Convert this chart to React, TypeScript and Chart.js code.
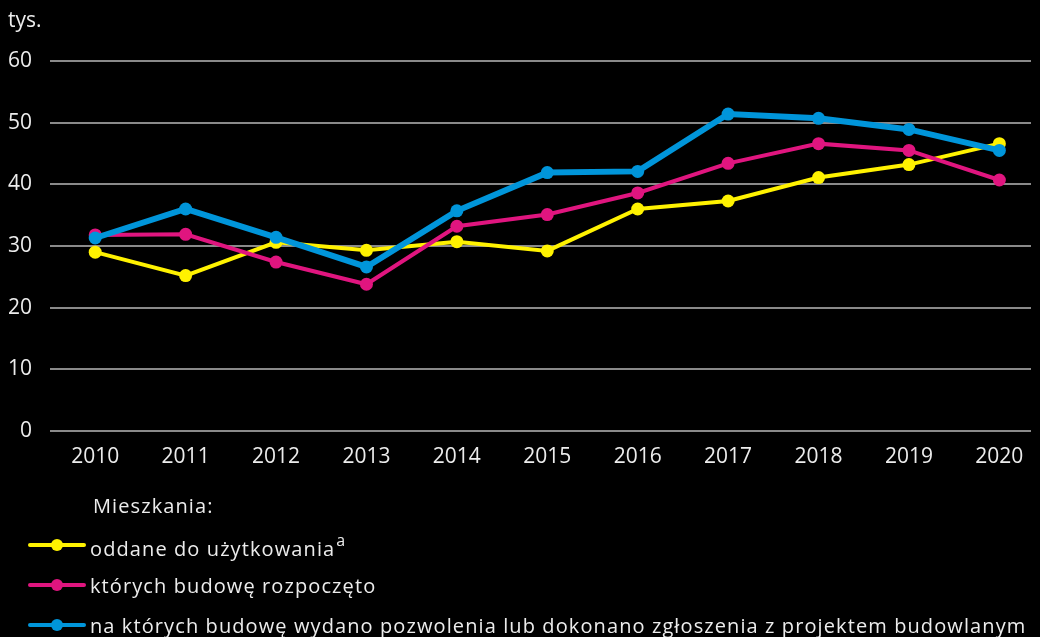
import React, { useEffect, useRef } from "react";
import { Chart, registerables } from "chart.js";

Chart.register(...registerables);

const years = ["2010", "2011", "2012", "2013", "2014", "2015", "2016", "2017", "2018", "2019", "2020"];
const oddane = [29.0, 25.2, 30.6, 29.3, 30.7, 29.2, 36.0, 37.3, 41.1, 43.2, 46.6];
const rozpoczete = [31.8, 31.9, 27.4, 23.8, 33.2, 35.1, 38.6, 43.4, 46.6, 45.5, 40.7];
const pozwolenia = [31.3, 36.0, 31.4, 26.6, 35.7, 41.9, 42.1, 51.4, 50.7, 48.9, 45.5];
const yTicks = [0, 10, 20, 30, 40, 50, 60];

const YELLOW = "#fff200";
const PINK = "#e0157f";
const BLUE = "#0095da";
const TEXT = "#ececec";
const FONT = "'Open Sans', 'Noto Sans', sans-serif";

const legendItems = [
  { color: YELLOW, label: "oddane do użytkowania", sup: "a" },
  { color: PINK, label: "których budowę rozpoczęto", sup: "" },
  { color: BLUE, label: "na których budowę wydano pozwolenia lub dokonano zgłoszenia z projektem budowlanym", sup: "" },
];

export default function App() {
  const ref = useRef<HTMLCanvasElement | null>(null);

  useEffect(() => {
    document.body.style.margin = "0";
    document.body.style.background = "#000";
    if (!ref.current) return;
    const mk = (label: string, values: number[], color: string, width: number, order: number) => ({
      label,
      data: values.map((v, i) => ({ x: i, y: v })),
      borderColor: color,
      backgroundColor: color,
      pointBackgroundColor: color,
      pointBorderColor: color,
      borderWidth: width,
      pointRadius: 6.5,
      pointBorderWidth: 0,
      tension: 0,
      order,
    });
    const chart = new Chart(ref.current, {
      type: "line",
      data: {
        datasets: [
          mk(legendItems[0].label, oddane, YELLOW, 4, 3),
          mk(legendItems[1].label, rozpoczete, PINK, 4, 2),
          mk(legendItems[2].label, pozwolenia, BLUE, 6, 1),
        ],
      },
      options: {
        animation: false,
        responsive: false,
        maintainAspectRatio: false,
        layout: { padding: { top: 61, right: 9, bottom: 166, left: 0 } },
        plugins: { legend: { display: false }, tooltip: { enabled: false } },
        scales: {
          x: {
            type: "linear",
            min: -0.5,
            max: 10.35,
            afterBuildTicks: (s: any) => {
              s.ticks = years.map((_, i) => ({ value: i }));
            },
            grid: { display: false, drawTicks: false },
            border: { display: false },
            ticks: {
              color: TEXT,
              font: { family: FONT, size: 21 },
              padding: 13,
              maxRotation: 0,
              autoSkip: false,
              callback: (v: any) => years[Math.round(Number(v))] ?? "",
            },
            afterFit: (s: any) => {
              s.height = 40;
            },
          },
          y: {
            min: 0,
            max: 60,
            afterBuildTicks: (s: any) => {
              s.ticks = yTicks.map((v) => ({ value: v }));
            },
            grid: { color: "#8a8a8a", lineWidth: 2, drawTicks: false },
            border: { display: false },
            ticks: { color: TEXT, font: { family: FONT, size: 21 }, padding: 18 },
            afterFit: (s: any) => {
              s.width = 50;
            },
          },
        },
      },
    });
    return () => chart.destroy();
  }, []);

  return (
    <div style={{ position: "relative", width: 1040, height: 637, background: "#000", overflow: "hidden", fontFamily: FONT }}>
      <canvas ref={ref} width={1040} height={637} style={{ position: "absolute", left: 0, top: 0, width: 1040, height: 637 }} />
      <div style={{ position: "absolute", left: 8, top: 5, color: TEXT, fontSize: 21 }}>tys.</div>
      <div style={{ position: "absolute", left: 93, top: 492, color: TEXT, fontSize: 20, letterSpacing: 1.1, whiteSpace: "nowrap" }}>
        Mieszkania:
      </div>
      {legendItems.map((it, i) => (
        <div
          key={i}
          style={{
            position: "absolute",
            left: 28,
            top: 531 + i * 40,
            height: 28,
            display: "flex",
            alignItems: "center",
            color: TEXT,
            fontSize: 20,
            letterSpacing: 1.1,
            whiteSpace: "nowrap",
          }}
        >
          <span style={{ position: "relative", width: 58, height: 12, marginRight: 4, display: "inline-block" }}>
            <span style={{ position: "absolute", left: 0, right: 0, top: 4, height: 4, borderRadius: 2, background: it.color }} />
            <span style={{ position: "absolute", left: 23, top: 0, width: 12, height: 12, borderRadius: 6, background: it.color }} />
          </span>
          <span>
            {it.label}
            {it.sup ? <sup style={{ fontSize: 16, marginLeft: 1, verticalAlign: "10px" }}>{it.sup}</sup> : null}
          </span>
        </div>
      ))}
    </div>
  );
}
